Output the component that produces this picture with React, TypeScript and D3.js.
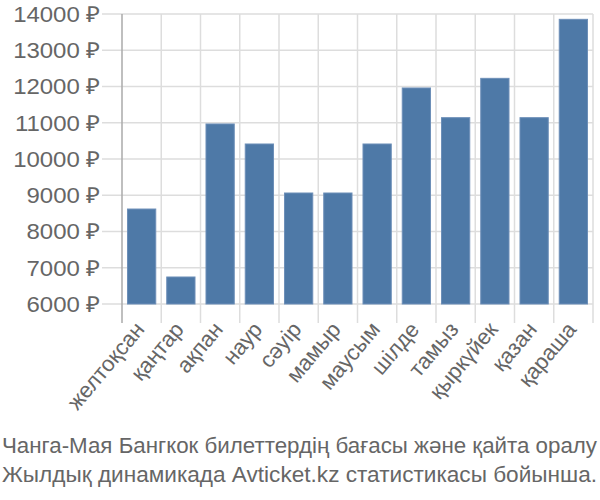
import React from "react";
import * as d3 from "d3";

const months = ["желтоқсан", "қаңтар", "ақпан", "наур", "сәуір", "мамыр", "маусым", "шілде", "тамыз", "қыркүйек", "қазан", "қараша"];
const prices = [8620, 6745, 10966, 10414, 9062, 9062, 10414, 11959, 11140, 12225, 11140, 13853];
const yTicks = [6000, 7000, 8000, 9000, 10000, 11000, 12000, 13000, 14000];
const captionLines = [
  "Чанга-Мая Бангкок билеттердің бағасы және қайта оралу",
  "Жылдық динамикада Avticket.kz статистикасы бойынша.",
];

const W = 600;
const H = 500;
const left = 122;
const right = 593;
const top = 14;
const bottom = 304;
const font = "'Liberation Sans', Arial, sans-serif";

export default function App() {
  const x = d3.scaleBand<string>().domain(months).range([left, right]).paddingInner(0.28).paddingOuter(0.14);
  const xb = d3.scaleBand<string>().domain(months).range([left, right]);
  const y = d3.scaleLinear().domain([6000, 14000]).range([bottom, top]);

  return (
    <svg width={W} height={H} style={{ position: "absolute", left: 0, top: 0 }} fontFamily={font}>
      {yTicks.map((t) => (
        <line key={"h" + t} x1={102} x2={right} y1={y(t)} y2={y(t)} stroke="#dddddd" strokeWidth={1.5} />
      ))}
      {months.map((m) => {
        const gx = (xb(m) as number) + xb.bandwidth();
        return <line key={"v" + m} x1={gx} x2={gx} y1={top} y2={323} stroke="#dddddd" strokeWidth={1.5} />;
      })}
      <line x1={left} x2={left} y1={top} y2={323} stroke="#aaaaaa" strokeWidth={1.5} />
      {months.map((m, i) => (
        <rect
          key={"b" + m}
          x={x(m) as number}
          y={y(prices[i])}
          width={x.bandwidth()}
          height={bottom - y(prices[i])}
          fill="#4e79a7"
          stroke="#6d8fb8"
          strokeWidth={1}
        />
      ))}
      {yTicks.map((t) => (
        <text
          key={"yl" + t}
          transform={`translate(100,${y(t)}) scale(1.09,1)`}
          dy="0.36em"
          textAnchor="end"
          fontSize={22}
          fill="#666666"
        >
          {t + " ₽"}
        </text>
      ))}
      {months.map((m) => {
        const cx = (xb(m) as number) + xb.bandwidth() / 2;
        return (
          <text key={"xl" + m} transform={`translate(${cx + 4},${330}) rotate(-50)`} textAnchor="end" fontSize={22} fill="#666666">
            {m}
          </text>
        );
      })}
      {captionLines.map((l, i) => (
        <text
          key={"c" + i}
          x={2}
          y={453 + i * 29}
          fontSize={22.3}
          fill="#666666"
          textLength={595}
          lengthAdjust="spacingAndGlyphs"
        >
          {l}
        </text>
      ))}
    </svg>
  );
}
